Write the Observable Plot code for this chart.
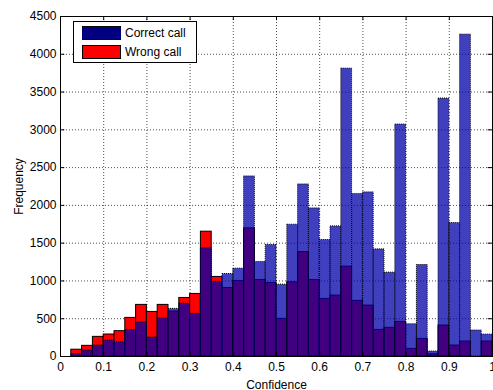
<!DOCTYPE html>
<html>
<head>
<meta charset="utf-8">
<script src="https://cdn.jsdelivr.net/npm/d3@7"></script>
<script src="https://cdn.jsdelivr.net/npm/@observablehq/plot@0.6"></script>
<style>
  body { margin: 0; background: #fff; }
  #wrap { position: relative; width: 493px; height: 390px; font-family: "Liberation Sans", Arial, sans-serif; }
  #legend { position: absolute; left: 73px; top: 21px; width: 122px; height: 40px; border: 1px solid #000; background: #fff; font-size: 12px; }
  .row { position: absolute; left: 8px; height: 14px; display: flex; align-items: center; }
  .sw { width: 37px; height: 12px; margin-right: 4px; }
</style>
</head>
<body>
<div id="wrap"></div>
<script>
const binStart = [0, 0.025, 0.05, 0.075, 0.1, 0.125, 0.15, 0.175, 0.2, 0.225,
  0.25, 0.275, 0.3, 0.325, 0.35, 0.375, 0.4, 0.425, 0.45, 0.475,
  0.5, 0.525, 0.55, 0.575, 0.6, 0.625, 0.65, 0.675, 0.7, 0.725,
  0.75, 0.775, 0.8, 0.825, 0.85, 0.875, 0.9, 0.925, 0.95, 0.975];
const binWidth = 0.025;
const correctCall = [0, 30, 79, 145, 211, 189, 348, 449, 251, 502,
  630, 700, 564, 1432, 991, 1092, 1163, 2383, 1251, 1476,
  951, 1744, 2277, 1960, 1542, 1722, 3810, 2150, 2172, 1418,
  1110, 3070, 427, 1211, 66, 3414, 1766, 4260, 344, 290];
const wrongCall = [0, 90, 141, 260, 291, 335, 511, 683, 590, 683,
  595, 775, 828, 1652, 1053, 907, 1000, 1696, 1013, 973,
  498, 982, 1383, 1013, 762, 806, 1189, 736, 674, 352,
  379, 458, 101, 233, 30, 410, 145, 198, 0, 198];
const xTicks = [0, 0.1, 0.2, 0.3, 0.4, 0.5, 0.6, 0.7, 0.8, 0.9, 1];
const yTicks = [0, 500, 1000, 1500, 2000, 2500, 3000, 3500, 4000, 4500];
const seriesNames = ["Correct call", "Wrong call"];

const wrongData = binStart.map((s, i) => ({x1: s, x2: s + binWidth, y: wrongCall[i]}));
const correctData = binStart.map((s, i) => ({x1: s, x2: s + binWidth, y: correctCall[i]}));

const chart = Plot.plot({
  width: 493,
  height: 390,
  marginLeft: 60,
  marginRight: 1,
  marginTop: 16,
  marginBottom: 34,
  style: {fontFamily: "Liberation Sans, Arial, sans-serif", fontSize: "12px", color: "#000", background: "#fff"},
  x: {domain: [0, 1]},
  y: {domain: [0, 4500]},
  marks: [
    Plot.gridX(xTicks, {stroke: "#000", strokeOpacity: 0.7, strokeDasharray: "1,2"}),
    Plot.gridY(yTicks, {stroke: "#000", strokeOpacity: 0.7, strokeDasharray: "1,2"}),
    Plot.rectY(wrongData, {x1: "x1", x2: "x2", y: "y", fill: "#ff0000", stroke: "#000", strokeWidth: 1, inset: 0}),
    Plot.rectY(correctData, {x1: "x1", x2: "x2", y: "y", fill: "#0000aa", fillOpacity: 0.75, stroke: "#000", strokeDasharray: "1,1", strokeWidth: 1, inset: 0}),
    Plot.ruleY(yTicks, {y: d => d, x1: 0, x2: 0.01, stroke: "#000"}),
    Plot.ruleY(yTicks, {y: d => d, x1: 0.99, x2: 1, stroke: "#000"}),
    Plot.ruleX(xTicks, {x: d => d, y1: 0, y2: 55, stroke: "#000"}),
    Plot.ruleX(xTicks, {x: d => d, y1: 4445, y2: 4500, stroke: "#000"}),
    Plot.axisX(xTicks, {tickSize: 0, tickPadding: 6, label: "Confidence", labelAnchor: "center", labelArrow: "none", labelOffset: 32, tickFormat: d => String(d)}),
    Plot.axisY(yTicks, {tickSize: 0, tickPadding: 4, label: "Frequency", labelAnchor: "center", labelArrow: "none", labelOffset: 46, tickFormat: d => String(d)}),
    Plot.frame({stroke: "#000"})
  ]
});

const wrap = document.getElementById("wrap");
wrap.appendChild(chart);
const legend = document.createElement("div");
legend.id = "legend";
legend.innerHTML =
  `<div class="row" style="top:4px"><div class="sw" style="background:#000080;border:1px dotted #000"></div>${seriesNames[0]}</div>` +
  `<div class="row" style="top:23px"><div class="sw" style="background:#ff0000;border:1px solid #000"></div>${seriesNames[1]}</div>`;
wrap.appendChild(legend);
</script>
</body>
</html>
